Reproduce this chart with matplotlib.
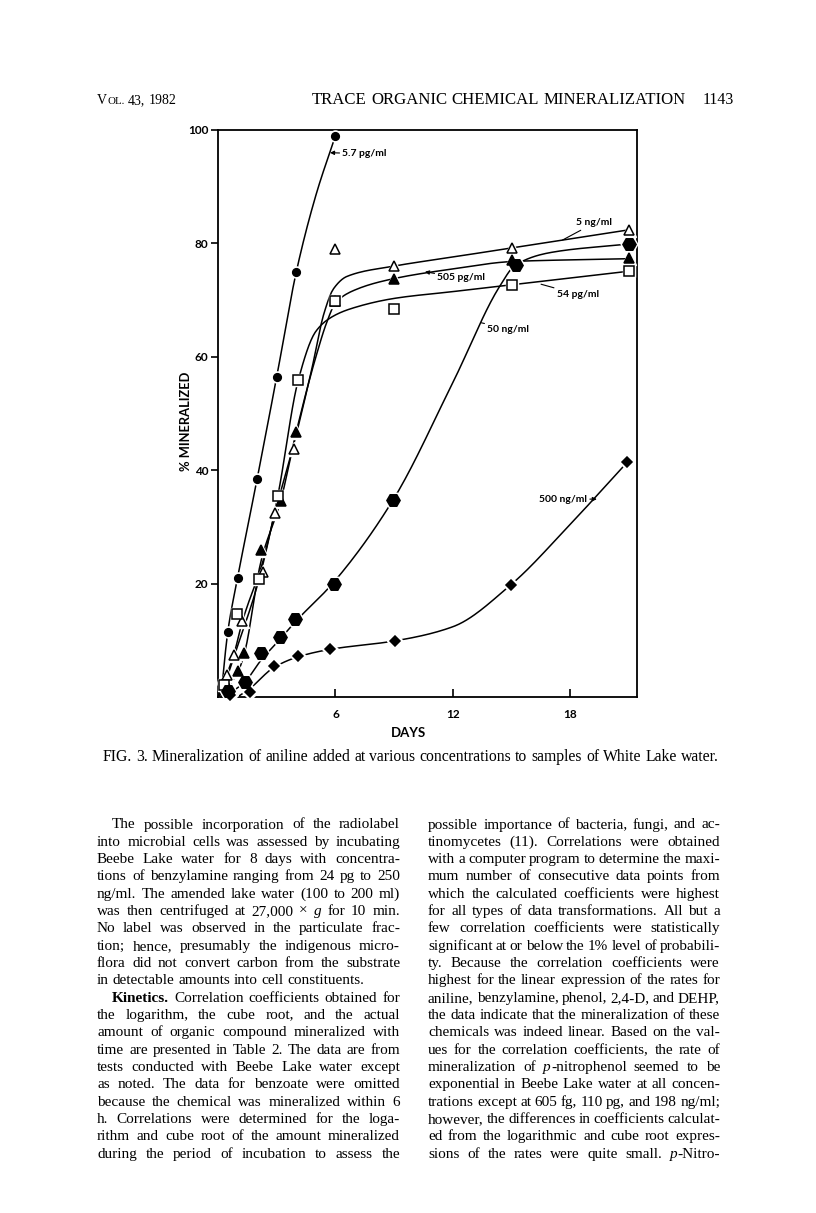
import re
import numpy as np
import matplotlib.pyplot as plt

W, H = 816, 1213

# ---- chart data (days, % mineralized) ----
days_57pg = [0.25, 0.5, 1, 2, 3, 4, 6]
pct_57pg = [2.5, 11.5, 21, 38.5, 56.5, 75, 99]
line_57pg_x = [0.15, 0.5, 1, 2, 3, 4, 5, 6]
line_57pg_y = [0.0, 11.5, 21, 38.5, 56.5, 75, 88.5, 99]

days_5ng = [0.44, 0.8, 1.25, 2.3, 2.9, 3.9, 6, 9, 15, 21]
pct_5ng = [3.9, 7.4, 13.4, 22, 32.4, 43.8, 79, 76, 79.2, 82.4]
line_5ng_x = [0, 0.44, 0.8, 1.25, 2.3, 2.9, 3.9, 4.8, 5.4, 5.9, 6.6, 9, 12, 15, 21]
line_5ng_y = [0, 3.9, 7.4, 13.4, 24, 32.4, 45, 58, 67.5, 72, 74.2, 76, 77.6, 79.2, 82.4]

days_505pg = [0.5, 1.04, 1.35, 2.2, 3.2, 4.0, 6, 9, 15, 21]
pct_505pg = [1.8, 4.6, 7.7, 25.9, 34.6, 46.8, 69.8, 73.8, 77, 77.4]
line_505pg_x = [0, 0.5, 1.04, 1.35, 2.2, 3.2, 4.0, 5.0, 5.6, 6.0, 7.0, 9, 12, 15, 18, 21]
line_505pg_y = [0, 1.8, 4.6, 7.7, 24, 34.6, 46.8, 60, 66.5, 69.5, 71.8, 73.8, 75.5, 76.8, 77.1, 77.3]

days_54pg = [0.3, 0.95, 2.1, 3.05, 4.1, 6, 9, 15, 21]
pct_54pg = [2.1, 14.6, 20.8, 35.4, 55.9, 69.8, 68.5, 72.7, 75.1]
line_54pg_x = [0, 0.3, 1.0, 2.1, 3.05, 4.1, 5.0, 5.8, 6.8, 9, 12, 15, 21]
line_54pg_y = [0, 2.1, 9, 20.8, 35.4, 55.9, 64.5, 67, 68.5, 70.3, 71.5, 72.7, 75.1]

days_50ng = [0.5, 1.38, 2.2, 3.17, 3.93, 5.9, 8.95, 15.2, 21]
pct_50ng = [1.0, 2.7, 7.7, 10.5, 13.7, 20, 34.8, 76.2, 79.9]
line_50ng_x = [0.3, 1.38, 2.2, 3.17, 3.93, 5.9, 8.95, 12, 14.4, 15.2, 17, 21]
line_50ng_y = [0, 2.7, 6.5, 10.2, 13.2, 20.2, 34.8, 55.5, 72.5, 76.2, 78.4, 79.9]

days_500ng = [0.6, 1.63, 2.85, 4.1, 5.72, 9.04, 14.96, 20.9]
pct_500ng = [0.4, 0.9, 5.4, 7.2, 8.4, 9.9, 19.8, 41.4]
line_500ng_x = [1.0, 1.63, 2.85, 4.1, 5.72, 9.04, 12, 14.96, 18, 20.9]
line_500ng_y = [0, 1.5, 5.2, 7.1, 8.4, 9.9, 12.4, 19.8, 30.5, 41.4]

x_ticks = [6, 12, 18]
y_ticks = [20, 40, 60, 80, 100]

# ---- page text ----
header_left = "V{s:OL.} 43, 1982"
header_mid = "TRACE ORGANIC CHEMICAL MINERALIZATION"
header_page = "1143"
caption = "FIG. 3.  Mineralization of aniline added at various concentrations to samples of White Lake water."

left_col = [
    "The possible incorporation of the radiolabel",
    "into microbial cells was assessed by incubating",
    "Beebe Lake water for 8 days with concentra-",
    "tions of benzylamine ranging from 24 pg to 250",
    "ng/ml. The amended lake water (100 to 200 ml)",
    "was then centrifuged at 27,000 × {i:g} for 10 min.",
    "No label was observed in the particulate frac-",
    "tion; hence, presumably the indigenous micro-",
    "flora did not convert carbon from the substrate",
    "in detectable amounts into cell constituents.",
    "{b:Kinetics.} Correlation coefficients obtained for",
    "the logarithm, the cube root, and the actual",
    "amount of organic compound mineralized with",
    "time are presented in Table 2. The data are from",
    "tests conducted with Beebe Lake water except",
    "as noted. The data for benzoate were omitted",
    "because the chemical was mineralized within 6",
    "h. Correlations were determined for the loga-",
    "rithm and cube root of the amount mineralized",
    "during the period of incubation to assess the",
]
right_col = [
    "possible importance of bacteria, fungi, and ac-",
    "tinomycetes (11). Correlations were obtained",
    "with a computer program to determine the maxi-",
    "mum number of consecutive data points from",
    "which the calculated coefficients were highest",
    "for all types of data transformations. All but a",
    "few correlation coefficients were statistically",
    "significant at or below the 1% level of probabili-",
    "ty. Because the correlation coefficients were",
    "highest for the linear expression of the rates for",
    "aniline, benzylamine, phenol, 2,4-D, and DEHP,",
    "the data indicate that the mineralization of these",
    "chemicals was indeed linear. Based on the val-",
    "ues for the correlation coefficients, the rate of",
    "mineralization of {i:p}-nitrophenol seemed to be",
    "exponential in Beebe Lake water at all concen-",
    "trations except at 605 fg, 110 pg, and 198 ng/ml;",
    "however, the differences in coefficients calculat-",
    "ed from the logarithmic and cube root expres-",
    "sions of the rates were quite small. {i:p}-Nitro-",
]


def smooth(xk, yk, n=200):
    # monotone cubic (PCHIP style) through the traced knots
    x = np.asarray(xk, float)
    y = np.asarray(yk, float)
    h = np.diff(x)
    d = np.diff(y) / h
    m = np.zeros_like(y)
    m[0], m[-1] = d[0], d[-1]
    for k in range(1, len(x) - 1):
        if d[k - 1] * d[k] > 0:
            w1 = 2 * h[k] + h[k - 1]
            w2 = h[k] + 2 * h[k - 1]
            m[k] = (w1 + w2) / (w1 / d[k - 1] + w2 / d[k])
    xs = np.linspace(x[0], x[-1], n)
    i = np.clip(np.searchsorted(x, xs) - 1, 0, len(x) - 2)
    t = (xs - x[i]) / h[i]
    h00 = 2 * t**3 - 3 * t**2 + 1
    h10 = t**3 - 2 * t**2 + t
    h01 = -2 * t**3 + 3 * t**2
    h11 = t**3 - t**2
    ys = h00 * y[i] + h10 * h[i] * m[i] + h01 * y[i + 1] + h11 * h[i] * m[i + 1]
    return xs, ys


fig = plt.figure(figsize=(W / 100, H / 100), dpi=100)
fig.patch.set_facecolor("white")

# axes box: x 218..637 px, y 130..697 px
ax = fig.add_axes([218 / W, 1 - 697 / H, (637 - 218) / W, (697 - 130) / H])
ax.set_xlim(0, 21.4)
ax.set_ylim(0, 100)

LW = 1.1
series = [
    (line_57pg_x, line_57pg_y, days_57pg, pct_57pg, "o", 5.5, "black"),
    (line_5ng_x, line_5ng_y, days_5ng, pct_5ng, "^", 7.5, "white"),
    (line_505pg_x, line_505pg_y, days_505pg, pct_505pg, "^", 7.5, "black"),
    (line_54pg_x, line_54pg_y, days_54pg, pct_54pg, "s", 6.5, "white"),
    (line_50ng_x, line_50ng_y, days_50ng, pct_50ng, "H", 9.5, "black"),
    (line_500ng_x, line_500ng_y, days_500ng, pct_500ng, "D", 5.5, "black"),
]
for lx, ly, px, py, mk, ms, fc in series:
    xs, ys = smooth(lx, ly)
    ax.plot(xs, ys, color="black", lw=LW, zorder=2, clip_on=False)
for lx, ly, px, py, mk, ms, fc in series:
    # white halo gives the broken-line look around each symbol
    ax.plot(px, py, ls="none", marker=mk, ms=ms + 2.5, mfc="white", mec="white",
            zorder=3, clip_on=False)
for lx, ly, px, py, mk, ms, fc in series:
    ax.plot(px, py, ls="none", marker=mk, ms=ms, mfc=fc, mec="black", mew=1.1,
            zorder=4, clip_on=False)

lab = dict(family="Lato", weight="bold", fontsize=7.5, va="center")
arr = dict(arrowstyle="-|>", color="black", lw=0.8, mutation_scale=6, shrinkA=0, shrinkB=0)
seg = dict(arrowstyle="-", color="black", lw=0.8, shrinkA=0, shrinkB=0)
ax.annotate("5.7 pg/ml", xy=(5.72, 96.0), xytext=(6.35, 95.8), ha="left", arrowprops=arr, **lab)
ax.annotate("5 ng/ml", xy=(17.6, 80.6), xytext=(18.3, 83.6), ha="left", arrowprops=seg, **lab)
ax.annotate("505 pg/ml", xy=(10.57, 75.0), xytext=(11.2, 73.9), ha="left", arrowprops=arr, **lab)
ax.annotate("54 pg/ml", xy=(16.5, 72.8), xytext=(17.3, 71.0), ha="left", arrowprops=seg, **lab)
ax.annotate("50 ng/ml", xy=(13.45, 66.0), xytext=(13.75, 64.9), ha="left", arrowprops=seg, **lab)
ax.annotate("500 ng/ml", xy=(19.35, 34.9), xytext=(18.85, 34.9), ha="right", arrowprops=arr, **lab)

for s in ax.spines.values():
    s.set_linewidth(1.3)
ax.set_xticks(x_ticks)
ax.set_yticks(y_ticks)
ax.tick_params(axis="x", direction="in", length=6, width=1.2, pad=9)
ax.tick_params(axis="y", direction="out", length=5, width=1.2, pad=2)
for t in ax.get_xticklabels() + ax.get_yticklabels():
    t.set_family("Lato")
    t.set_weight("bold")
    t.set_fontsize(8.5)

fig.text(408 / W, 1 - 733 / H, "DAYS", family="Lato", weight="bold", fontsize=9.5,
         ha="center", va="center")
fig.text(186 / W, 1 - 421 / H, "% MINERALIZED", family="Lato", weight="bold", fontsize=9.3,
         ha="center", va="center", rotation=90)

# ---- page text helpers ----
renderer = fig.canvas.get_renderer()
SERIF = "Liberation Serif"


def parse_word(word):
    segs = []
    pos = 0
    for m in re.finditer(r"\{(i|b|s):([^}]*)\}", word):
        if m.start() > pos:
            segs.append(("r", word[pos:m.start()]))
        segs.append((m.group(1), m.group(2)))
        pos = m.end()
    if pos < len(word):
        segs.append(("r", word[pos:]))
    return segs


def make_seg(style, text, size):
    kw = dict(family=SERIF, fontsize=size, va="baseline", ha="left")
    if style == "i":
        kw["style"] = "italic"
    if style == "b":
        kw["weight"] = "bold"
    if style == "s":
        kw["fontsize"] = size * 0.78
    return fig.text(0, 0, text, **kw)


def width_px(t):
    return t.get_window_extent(renderer).width


def draw_line(line, x0, x1, y, size, justify=True):
    words = [parse_word(w) for w in line.split(" ") if w]
    built = []
    for segs in words:
        parts = [make_seg(st, tx, size) for st, tx in segs]
        built.append((parts, sum(width_px(p) for p in parts)))
    probe_a = make_seg("r", "a a", size)
    probe_b = make_seg("r", "aa", size)
    space = width_px(probe_a) - width_px(probe_b)
    probe_a.remove()
    probe_b.remove()
    total = sum(w for _, w in built)
    if justify and len(built) > 1:
        gap = (x1 - x0 - total) / (len(built) - 1)
    else:
        gap = space
    x = x0
    for parts, w in built:
        for p in parts:
            p.set_position((x / W, 1 - y / H))
            x += width_px(p)
        x += gap


BODY = 11.0
LINE = 17.33
BASE = 828.5
for i, line in enumerate(left_col):
    indent = 112 if i in (0, 10) else 97
    draw_line(line, indent, 400, BASE + i * LINE, BODY, justify=(i != 9))
for i, line in enumerate(right_col):
    draw_line(line, 428, 720, BASE + i * LINE, BODY, justify=True)

draw_line(header_left, 97, 170, 104, 10.0, justify=False)
draw_line(header_mid, 312, 690, 104, 12.1, justify=False)
draw_line(header_page, 703, 740, 104, 11.5, justify=False)
draw_line(caption, 103, 718, 761, 11.35, justify=False)

fig.savefig("out.png", dpi=100, facecolor="white")
